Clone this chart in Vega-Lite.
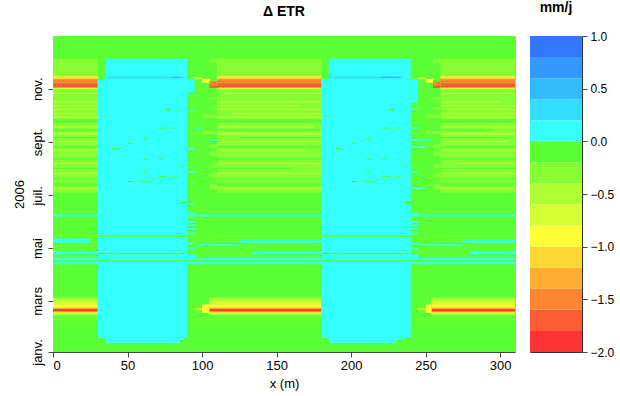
{
  "$schema": "https://vega.github.io/schema/vega-lite/v6.json",
  "background": "white",
  "padding": {"left": 12, "top": 0, "right": 5, "bottom": 4},
  "config": {
    "font": "Liberation Sans",
    "view": {"stroke": null},
    "axis": {"labelFont": "Liberation Sans", "titleFont": "Liberation Sans", "labelFontSize": 13, "titleFontSize": 13, "titleFontWeight": "normal", "labelColor": "#000", "titleColor": "#000", "domainColor": "#444", "tickColor": "#444", "grid": false, "tickSize": 5},
    "title": {"font": "Liberation Sans", "fontSize": 14, "fontWeight": "bold", "color": "#000"},
    "concat": {"spacing": 13}
  },
  "datasets": {
    "cells": [
      {"x0":0,"x1":310,"d0":0,"d1":365,"v":-0.1},
      {"x0":0,"x1":30,"d0":184,"d1":338.8,"v":-0.3},
      {"x0":110,"x1":180,"d0":184,"d1":338.8,"v":-0.3},
      {"x0":260,"x1":310,"d0":184,"d1":338.8,"v":-0.3},
      {"x0":105,"x1":110,"d0":334,"d1":338.8,"v":-0.3},
      {"x0":255,"x1":260,"d0":334,"d1":338.8,"v":-0.3},

      {"x0":0,"x1":30,"d0":298,"d1":299.3,"v":-0.5},
      {"x0":0,"x1":30,"d0":288,"d1":290,"v":-0.5},
      {"x0":0,"x1":30,"d0":283.8,"d1":285.3,"v":-0.5},
      {"x0":0,"x1":30,"d0":279.1,"d1":281.4,"v":-0.5},
      {"x0":0,"x1":30,"d0":274.5,"d1":276.4,"v":-0.5},
      {"x0":0,"x1":30,"d0":269.9,"d1":272.2,"v":-0.5},
      {"x0":0,"x1":30,"d0":264.9,"d1":268.7,"v":-0.1},
      {"x0":0,"x1":30,"d0":258.3,"d1":261,"v":-0.5},
      {"x0":0,"x1":30,"d0":255.3,"d1":257.9,"v":-0.1},
      {"x0":0,"x1":30,"d0":250.6,"d1":253.3,"v":-0.5},
      {"x0":0,"x1":30,"d0":246.8,"d1":248.3,"v":-0.1},
      {"x0":0,"x1":30,"d0":242.2,"d1":243.7,"v":-0.5},
      {"x0":0,"x1":30,"d0":236,"d1":237.9,"v":-0.1},
      {"x0":0,"x1":30,"d0":232.2,"d1":234.1,"v":-0.5},
      {"x0":0,"x1":30,"d0":222.1,"d1":224.4,"v":-0.1},
      {"x0":0,"x1":30,"d0":216.8,"d1":218.6,"v":-0.5},
      {"x0":0,"x1":30,"d0":211.4,"d1":212.9,"v":-0.1},
      {"x0":0,"x1":30,"d0":205.2,"d1":207.1,"v":-0.5},
      {"x0":0,"x1":30,"d0":199.5,"d1":201.3,"v":-0.1},
      {"x0":0,"x1":30,"d0":191.7,"d1":195.5,"v":-0.1},
      {"x0":0,"x1":30,"d0":187.9,"d1":189.8,"v":-0.5},

      {"x0":115,"x1":180,"d0":298,"d1":299.3,"v":-0.5},
      {"x0":110,"x1":180,"d0":288,"d1":290,"v":-0.5},
      {"x0":110,"x1":165,"d0":283.8,"d1":285.3,"v":-0.5},
      {"x0":110,"x1":180,"d0":279.1,"d1":281.4,"v":-0.5},
      {"x0":120,"x1":180,"d0":274.5,"d1":276.4,"v":-0.5},
      {"x0":110,"x1":180,"d0":269.9,"d1":272.2,"v":-0.5},
      {"x0":110,"x1":180,"d0":264.9,"d1":268.7,"v":-0.1},
      {"x0":110,"x1":175,"d0":258.3,"d1":261,"v":-0.5},
      {"x0":110,"x1":180,"d0":255.3,"d1":257.9,"v":-0.1},
      {"x0":110,"x1":180,"d0":250.6,"d1":253.3,"v":-0.5},
      {"x0":125,"x1":180,"d0":246.8,"d1":248.3,"v":-0.1},
      {"x0":110,"x1":180,"d0":242.2,"d1":243.7,"v":-0.5},
      {"x0":110,"x1":180,"d0":236,"d1":237.9,"v":-0.1},
      {"x0":110,"x1":170,"d0":232.2,"d1":234.1,"v":-0.5},
      {"x0":110,"x1":180,"d0":222.1,"d1":224.4,"v":-0.1},
      {"x0":110,"x1":180,"d0":216.8,"d1":218.6,"v":-0.5},
      {"x0":110,"x1":160,"d0":211.4,"d1":212.9,"v":-0.1},
      {"x0":110,"x1":180,"d0":205.2,"d1":207.1,"v":-0.5},
      {"x0":110,"x1":180,"d0":199.5,"d1":201.3,"v":-0.1},
      {"x0":110,"x1":180,"d0":191.7,"d1":195.5,"v":-0.1},
      {"x0":115,"x1":180,"d0":187.9,"d1":189.8,"v":-0.5},

      {"x0":260,"x1":310,"d0":298,"d1":299.3,"v":-0.5},
      {"x0":260,"x1":300,"d0":288,"d1":290,"v":-0.5},
      {"x0":260,"x1":310,"d0":283.8,"d1":285.3,"v":-0.5},
      {"x0":265,"x1":310,"d0":279.1,"d1":281.4,"v":-0.5},
      {"x0":260,"x1":310,"d0":274.5,"d1":276.4,"v":-0.5},
      {"x0":260,"x1":310,"d0":269.9,"d1":272.2,"v":-0.5},
      {"x0":260,"x1":310,"d0":264.9,"d1":268.7,"v":-0.1},
      {"x0":260,"x1":310,"d0":258.3,"d1":261,"v":-0.5},
      {"x0":260,"x1":295,"d0":255.3,"d1":257.9,"v":-0.1},
      {"x0":260,"x1":310,"d0":250.6,"d1":253.3,"v":-0.5},
      {"x0":260,"x1":310,"d0":246.8,"d1":248.3,"v":-0.1},
      {"x0":260,"x1":305,"d0":242.2,"d1":243.7,"v":-0.5},
      {"x0":260,"x1":310,"d0":236,"d1":237.9,"v":-0.1},
      {"x0":260,"x1":310,"d0":232.2,"d1":234.1,"v":-0.5},
      {"x0":260,"x1":310,"d0":222.1,"d1":224.4,"v":-0.1},
      {"x0":270,"x1":310,"d0":216.8,"d1":218.6,"v":-0.5},
      {"x0":260,"x1":310,"d0":211.4,"d1":212.9,"v":-0.1},
      {"x0":260,"x1":310,"d0":205.2,"d1":207.1,"v":-0.5},
      {"x0":260,"x1":310,"d0":199.5,"d1":201.3,"v":-0.1},
      {"x0":260,"x1":310,"d0":191.7,"d1":195.5,"v":-0.1},
      {"x0":260,"x1":310,"d0":187.9,"d1":189.8,"v":-0.5},

      {"x0":0,"x1":30,"d0":316.8,"d1":318.8,"v":-0.7},
      {"x0":0,"x1":30,"d0":315,"d1":316.8,"v":-1.1},
      {"x0":0,"x1":30,"d0":310.4,"d1":315,"v":-1.5},
      {"x0":0,"x1":30,"d0":305.3,"d1":310.4,"v":-1.7},
      {"x0":0,"x1":30,"d0":303.4,"d1":305.3,"v":-0.7},
      {"x0":110,"x1":180,"d0":316.8,"d1":318.8,"v":-0.7},
      {"x0":110,"x1":180,"d0":315,"d1":316.8,"v":-1.1},
      {"x0":110,"x1":180,"d0":310.4,"d1":315,"v":-1.5},
      {"x0":110,"x1":180,"d0":305.3,"d1":310.4,"v":-1.7},
      {"x0":110,"x1":180,"d0":303.4,"d1":305.3,"v":-0.7},
      {"x0":260,"x1":310,"d0":316.8,"d1":318.8,"v":-0.7},
      {"x0":260,"x1":310,"d0":315,"d1":316.8,"v":-1.1},
      {"x0":260,"x1":310,"d0":310.4,"d1":315,"v":-1.5},
      {"x0":260,"x1":310,"d0":305.3,"d1":310.4,"v":-1.7},
      {"x0":260,"x1":310,"d0":303.4,"d1":305.3,"v":-0.7},
      {"x0":95,"x1":100,"d0":315,"d1":317,"v":-0.7},
      {"x0":100,"x1":105,"d0":311,"d1":315.5,"v":-0.9},
      {"x0":105,"x1":110,"d0":308,"d1":313,"v":-1.5},
      {"x0":105,"x1":110,"d0":305,"d1":308,"v":-1.7},
      {"x0":245,"x1":250,"d0":315,"d1":317,"v":-0.7},
      {"x0":250,"x1":255,"d0":311,"d1":315.5,"v":-0.9},
      {"x0":255,"x1":260,"d0":308,"d1":313,"v":-1.5},
      {"x0":255,"x1":260,"d0":305,"d1":308,"v":-1.7},

      {"x0":0,"x1":30,"d0":58.9,"d1":62.7,"v":-0.5},
      {"x0":0,"x1":30,"d0":55.1,"d1":58.9,"v":-0.7},
      {"x0":0,"x1":30,"d0":51.2,"d1":55.1,"v":-0.9},
      {"x0":0,"x1":30,"d0":49.3,"d1":51.2,"v":-1.3},
      {"x0":0,"x1":30,"d0":46.8,"d1":49.3,"v":-1.9},
      {"x0":0,"x1":30,"d0":45.5,"d1":46.8,"v":-1.3},
      {"x0":0,"x1":30,"d0":44.2,"d1":45.5,"v":-0.9},
      {"x0":0,"x1":30,"d0":42.4,"d1":44.2,"v":-0.5},
      {"x0":105,"x1":180,"d0":58.9,"d1":62.7,"v":-0.5},
      {"x0":105,"x1":180,"d0":55.1,"d1":58.9,"v":-0.7},
      {"x0":105,"x1":180,"d0":51.2,"d1":55.1,"v":-0.9},
      {"x0":105,"x1":180,"d0":49.3,"d1":51.2,"v":-1.3},
      {"x0":105,"x1":180,"d0":46.8,"d1":49.3,"v":-1.9},
      {"x0":105,"x1":180,"d0":45.5,"d1":46.8,"v":-1.3},
      {"x0":105,"x1":180,"d0":44.2,"d1":45.5,"v":-0.9},
      {"x0":105,"x1":180,"d0":42.4,"d1":44.2,"v":-0.5},
      {"x0":254,"x1":310,"d0":58.9,"d1":62.7,"v":-0.5},
      {"x0":254,"x1":310,"d0":55.1,"d1":58.9,"v":-0.7},
      {"x0":254,"x1":310,"d0":51.2,"d1":55.1,"v":-0.9},
      {"x0":254,"x1":310,"d0":49.3,"d1":51.2,"v":-1.3},
      {"x0":254,"x1":310,"d0":46.8,"d1":49.3,"v":-1.9},
      {"x0":254,"x1":310,"d0":45.5,"d1":46.8,"v":-1.3},
      {"x0":254,"x1":310,"d0":44.2,"d1":45.5,"v":-0.9},
      {"x0":254,"x1":310,"d0":42.4,"d1":44.2,"v":-0.5},
      {"x0":0,"x1":30,"d0":36.6,"d1":37.8,"v":-0.3},
      {"x0":95,"x1":180,"d0":36.6,"d1":37.8,"v":-0.3},
      {"x0":245,"x1":310,"d0":36.6,"d1":37.8,"v":-0.3},
      {"x0":95,"x1":100,"d0":48,"d1":51,"v":-0.5},
      {"x0":100,"x1":105,"d0":45,"d1":55,"v":-0.9},
      {"x0":245,"x1":250,"d0":48,"d1":51,"v":-0.5},
      {"x0":250,"x1":254,"d0":45,"d1":55,"v":-0.9},

      {"x0":35,"x1":90,"d0":315,"d1":338.8,"v":0.1},
      {"x0":30,"x1":90,"d0":16.5,"d1":315,"v":0.1},
      {"x0":35,"x1":88,"d0":13.9,"d1":16.5,"v":0.1},
      {"x0":35,"x1":85,"d0":10,"d1":13.9,"v":0.1},
      {"x0":90,"x1":95,"d0":300,"d1":315,"v":0.1},
      {"x0":185,"x1":240,"d0":315,"d1":338.8,"v":0.1},
      {"x0":180,"x1":240,"d0":16.5,"d1":315,"v":0.1},
      {"x0":185,"x1":235,"d0":13.9,"d1":16.5,"v":0.1},
      {"x0":185,"x1":230,"d0":10,"d1":13.9,"v":0.1},
      {"x0":240,"x1":245,"d0":288,"d1":315,"v":0.1},
      {"x0":36,"x1":88,"d0":316.2,"d1":318,"v":0.3},
      {"x0":80,"x1":85,"d0":316.2,"d1":318,"v":0.5},
      {"x0":185,"x1":235,"d0":316.2,"d1":318,"v":0.3},
      {"x0":220,"x1":233,"d0":316.2,"d1":318,"v":0.5},

      {"x0":74,"x1":80,"d0":279,"d1":280.2,"v":-0.1},
      {"x0":31,"x1":34,"d0":272,"d1":273.2,"v":-0.1},
      {"x0":70,"x1":76,"d0":258,"d1":259.2,"v":-0.1},
      {"x0":80,"x1":83,"d0":258,"d1":259.2,"v":-0.1},
      {"x0":60,"x1":64,"d0":245,"d1":246.2,"v":-0.1},
      {"x0":50,"x1":54,"d0":240.5,"d1":241.7,"v":-0.1},
      {"x0":40,"x1":44,"d0":234.3,"d1":235.5,"v":-0.1},
      {"x0":60,"x1":64,"d0":222,"d1":223.2,"v":-0.1},
      {"x0":70,"x1":74,"d0":222,"d1":223.2,"v":-0.1},
      {"x0":85,"x1":88,"d0":214.3,"d1":215.5,"v":-0.1},
      {"x0":60,"x1":64,"d0":207.7,"d1":208.9,"v":-0.1},
      {"x0":70,"x1":77,"d0":202,"d1":203.2,"v":-0.1},
      {"x0":80,"x1":84,"d0":202,"d1":203.2,"v":-0.1},
      {"x0":50,"x1":54,"d0":196.2,"d1":197.4,"v":-0.1},
      {"x0":61,"x1":67,"d0":196,"d1":197.2,"v":-0.1},
      {"x0":85,"x1":90,"d0":172,"d1":173.2,"v":-0.1},
      {"x0":224,"x1":230,"d0":279,"d1":280.2,"v":-0.1},
      {"x0":181,"x1":184,"d0":272,"d1":273.2,"v":-0.1},
      {"x0":220,"x1":226,"d0":258,"d1":259.2,"v":-0.1},
      {"x0":230,"x1":233,"d0":258,"d1":259.2,"v":-0.1},
      {"x0":210,"x1":214,"d0":245,"d1":246.2,"v":-0.1},
      {"x0":200,"x1":204,"d0":240.5,"d1":241.7,"v":-0.1},
      {"x0":190,"x1":194,"d0":234.3,"d1":235.5,"v":-0.1},
      {"x0":210,"x1":214,"d0":222,"d1":223.2,"v":-0.1},
      {"x0":220,"x1":224,"d0":222,"d1":223.2,"v":-0.1},
      {"x0":235,"x1":238,"d0":214.3,"d1":215.5,"v":-0.1},
      {"x0":210,"x1":214,"d0":207.7,"d1":208.9,"v":-0.1},
      {"x0":220,"x1":227,"d0":202,"d1":203.2,"v":-0.1},
      {"x0":230,"x1":234,"d0":202,"d1":203.2,"v":-0.1},
      {"x0":200,"x1":204,"d0":196.2,"d1":197.4,"v":-0.1},
      {"x0":211,"x1":217,"d0":196,"d1":197.2,"v":-0.1},
      {"x0":235,"x1":240,"d0":172,"d1":173.2,"v":-0.1},

      {"x0":90,"x1":96,"d0":296.5,"d1":297.6,"v":0.1},
      {"x0":90,"x1":95,"d0":278.4,"d1":279.5,"v":0.1},
      {"x0":95,"x1":100,"d0":257.9,"d1":259.1,"v":0.1},
      {"x0":105,"x1":110,"d0":243.7,"d1":245.5,"v":0.1},
      {"x0":90,"x1":95,"d0":234.1,"d1":236,"v":0.1},
      {"x0":90,"x1":95,"d0":207.1,"d1":209,"v":0.1},
      {"x0":95,"x1":100,"d0":196.4,"d1":197.5,"v":0.1},
      {"x0":90,"x1":95,"d0":169.8,"d1":171.3,"v":0.1},
      {"x0":240,"x1":244,"d0":280.3,"d1":282.2,"v":0.1},
      {"x0":240,"x1":246,"d0":258,"d1":259.5,"v":0.1},
      {"x0":240,"x1":254,"d0":244,"d1":245.8,"v":0.1},
      {"x0":240,"x1":250,"d0":236,"d1":237.9,"v":0.1},
      {"x0":240,"x1":245,"d0":207,"d1":209,"v":0.1},
      {"x0":245,"x1":250,"d0":196.4,"d1":197.5,"v":0.1},
      {"x0":240,"x1":250,"d0":188,"d1":190,"v":0.1},

      {"x0":105,"x1":110,"d0":291.9,"d1":293.7,"v":-0.3},
      {"x0":105,"x1":110,"d0":280.3,"d1":282.2,"v":-0.3},
      {"x0":100,"x1":110,"d0":270.6,"d1":274.5,"v":-0.3},
      {"x0":100,"x1":110,"d0":251.4,"d1":255.3,"v":-0.3},
      {"x0":105,"x1":110,"d0":236,"d1":239.9,"v":-0.3},
      {"x0":105,"x1":110,"d0":226.4,"d1":232.2,"v":-0.3},
      {"x0":105,"x1":110,"d0":212.9,"d1":216.8,"v":-0.3},
      {"x0":105,"x1":110,"d0":201.3,"d1":207.1,"v":-0.3},
      {"x0":105,"x1":110,"d0":187.9,"d1":193.7,"v":-0.3},
      {"x0":255,"x1":260,"d0":291.9,"d1":293.7,"v":-0.3},
      {"x0":255,"x1":260,"d0":280.3,"d1":282.2,"v":-0.3},
      {"x0":250,"x1":260,"d0":270.6,"d1":274.5,"v":-0.3},
      {"x0":250,"x1":260,"d0":251.4,"d1":255.3,"v":-0.3},
      {"x0":255,"x1":260,"d0":236,"d1":239.9,"v":-0.3},
      {"x0":255,"x1":260,"d0":226.4,"d1":232.2,"v":-0.3},
      {"x0":255,"x1":260,"d0":212.9,"d1":216.8,"v":-0.3},
      {"x0":255,"x1":260,"d0":201.3,"d1":207.1,"v":-0.3},
      {"x0":255,"x1":260,"d0":187.9,"d1":193.7,"v":-0.3},

      {"x0":90,"x1":96,"d0":159,"d1":160.9,"v":0.1},
      {"x0":90,"x1":96,"d0":149.3,"d1":151.3,"v":0.1},
      {"x0":90,"x1":96,"d0":145.5,"d1":147.5,"v":0.1},
      {"x0":90,"x1":96,"d0":141.7,"d1":143.6,"v":0.1},
      {"x0":90,"x1":96,"d0":135.9,"d1":137.8,"v":0.1},
      {"x0":90,"x1":96,"d0":124.4,"d1":126.2,"v":0.1},
      {"x0":90,"x1":96,"d0":118.6,"d1":120.5,"v":0.1},
      {"x0":90,"x1":96,"d0":108.9,"d1":112.8,"v":0.1},
      {"x0":240,"x1":245,"d0":159,"d1":160.9,"v":0.1},
      {"x0":240,"x1":245,"d0":149.3,"d1":151.3,"v":0.1},
      {"x0":240,"x1":245,"d0":145.5,"d1":147.5,"v":0.1},
      {"x0":240,"x1":245,"d0":141.7,"d1":143.6,"v":0.1},
      {"x0":240,"x1":245,"d0":135.9,"d1":137.8,"v":0.1},
      {"x0":240,"x1":245,"d0":124.4,"d1":126.2,"v":0.1},
      {"x0":240,"x1":245,"d0":118.6,"d1":120.5,"v":0.1},
      {"x0":240,"x1":245,"d0":108.9,"d1":112.8,"v":0.1},

      {"x0":0,"x1":30,"d0":156.5,"d1":158.8,"v":0.1},
      {"x0":90,"x1":180,"d0":156.5,"d1":158.8,"v":0.1},
      {"x0":240,"x1":310,"d0":156.5,"d1":158.8,"v":0.1},
      {"x0":30,"x1":90,"d0":132.8,"d1":134.8,"v":-0.1},
      {"x0":180,"x1":240,"d0":132.8,"d1":134.8,"v":-0.1},
      {"x0":0,"x1":30,"d0":133.4,"d1":134.4,"v":-0.3},
      {"x0":105,"x1":180,"d0":133.4,"d1":134.4,"v":-0.3},
      {"x0":255,"x1":310,"d0":133.4,"d1":134.4,"v":-0.3},
      {"x0":0,"x1":25,"d0":126.2,"d1":131,"v":0.1},
      {"x0":125,"x1":180,"d0":126.2,"d1":129,"v":0.1},
      {"x0":275,"x1":310,"d0":126.2,"d1":129,"v":0.1},
      {"x0":96,"x1":125,"d0":123,"d1":124.4,"v":0.1},
      {"x0":245,"x1":275,"d0":123,"d1":124.4,"v":0.1},
      {"x0":0,"x1":30,"d0":113,"d1":116.5,"v":0.1},
      {"x0":134,"x1":180,"d0":113,"d1":116.5,"v":0.1},
      {"x0":280,"x1":310,"d0":113,"d1":116.5,"v":0.1},
      {"x0":30,"x1":88,"d0":112.8,"d1":114.5,"v":-0.1},
      {"x0":180,"x1":238,"d0":112.8,"d1":114.5,"v":-0.1},
      {"x0":0,"x1":30,"d0":106,"d1":109,"v":0.1},
      {"x0":90,"x1":180,"d0":106,"d1":109,"v":0.1},
      {"x0":240,"x1":310,"d0":106,"d1":109,"v":0.1},
      {"x0":0,"x1":310,"d0":104,"d1":106,"v":-0.1},
      {"x0":0,"x1":310,"d0":101.5,"d1":104,"v":0.1}
    ],
    "bar": [
      {"lo":-2.0,"hi":-1.8,"v":-1.9},
      {"lo":-1.8,"hi":-1.6,"v":-1.7},
      {"lo":-1.6,"hi":-1.4,"v":-1.5},
      {"lo":-1.4,"hi":-1.2,"v":-1.3},
      {"lo":-1.2,"hi":-1.0,"v":-1.1},
      {"lo":-1.0,"hi":-0.8,"v":-0.9},
      {"lo":-0.8,"hi":-0.6,"v":-0.7},
      {"lo":-0.6,"hi":-0.4,"v":-0.5},
      {"lo":-0.4,"hi":-0.2,"v":-0.3},
      {"lo":-0.2,"hi":0.0,"v":-0.1},
      {"lo":0.0,"hi":0.2,"v":0.1},
      {"lo":0.2,"hi":0.4,"v":0.3},
      {"lo":0.4,"hi":0.6,"v":0.5},
      {"lo":0.6,"hi":0.8,"v":0.7},
      {"lo":0.8,"hi":1.0,"v":0.9}
    ]
  },
  "hconcat": [
    {
      "title": {"text": "Δ ETR", "anchor": "middle", "frame": "group", "offset": 15, "dy": -2},
      "width": 462,
      "height": 316,
      "view": {"stroke": "#bbbbbb"},
      "data": {"name": "cells"},
      "mark": {"type": "rect", "strokeWidth": 0},
      "encoding": {
        "x": {"field": "x0", "type": "quantitative", "scale": {"domain": [0, 310], "nice": false, "zero": false},
              "axis": {"values": [0, 50, 100, 150, 200, 250, 300], "title": "x (m)", "labelPadding": 2, "titlePadding": 5}},
        "x2": {"field": "x1"},
        "y": {"field": "d0", "type": "quantitative", "scale": {"domain": [0, 365], "nice": false, "zero": false},
              "axis": {"values": [0, 59, 120, 181, 243, 304],
                       "labelExpr": "['janv.','mars','mai','juil.','sept.','nov.'][indexof([0,59,120,181,243,304], datum.value)]",
                       "labelAngle": -90, "labelAlign": "center", "labelBaseline": "bottom", "labelPadding": 4,
                       "title": "2006", "titlePadding": 5}},
        "y2": {"field": "d1"},
        "color": {"field": "v", "type": "quantitative",
                  "scale": {"type": "threshold",
                            "domain": [-1.8, -1.6, -1.4, -1.2, -1.0, -0.8, -0.6, -0.4, -0.2, 0, 0.2, 0.4, 0.6, 0.8],
                            "range": ["#ff3333", "#ff5c33", "#ff8533", "#ffad33", "#ffd633", "#ffff33", "#d6ff33", "#adff33", "#85ff33", "#5cff33", "#33ffff", "#33ddff", "#33bbff", "#3399ff", "#3377ff"]},
                  "legend": null}
      }
    },
    {
      "title": {"text": "mm/j", "anchor": "middle", "frame": "group", "offset": 15},
      "width": 52,
      "height": 316,
      "view": {"stroke": "#333333"},
      "data": {"name": "bar"},
      "mark": {"type": "rect", "strokeWidth": 0},
      "encoding": {
        "y": {"field": "lo", "type": "quantitative", "scale": {"domain": [-2, 1], "nice": false, "zero": false},
              "axis": {"orient": "right", "values": [-2, -1.5, -1, -0.5, 0, 0.5, 1], "format": ".1f", "title": null, "domain": false, "labelFontSize": 12, "labelPadding": 3}},
        "y2": {"field": "hi"},
        "color": {"field": "v", "type": "quantitative",
                  "scale": {"type": "threshold",
                            "domain": [-1.8, -1.6, -1.4, -1.2, -1.0, -0.8, -0.6, -0.4, -0.2, 0, 0.2, 0.4, 0.6, 0.8],
                            "range": ["#ff3333", "#ff5c33", "#ff8533", "#ffad33", "#ffd633", "#ffff33", "#d6ff33", "#adff33", "#85ff33", "#5cff33", "#33ffff", "#33ddff", "#33bbff", "#3399ff", "#3377ff"]},
                  "legend": null}
      }
    }
  ]
}
